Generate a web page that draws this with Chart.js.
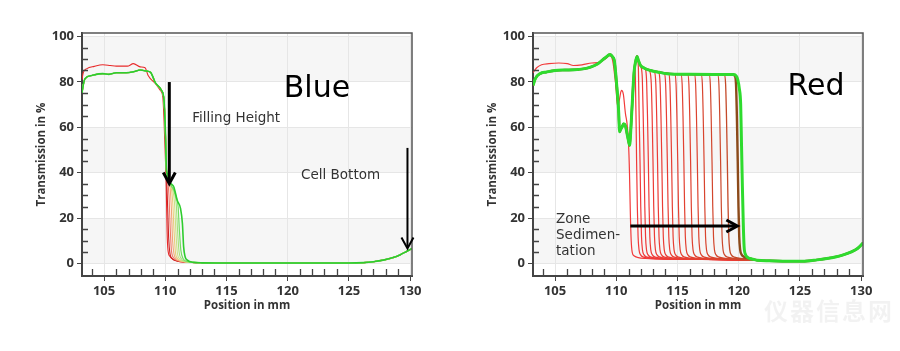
<!DOCTYPE html>
<html><head><meta charset="utf-8">
<script src="https://cdn.jsdelivr.net/npm/chart.js@4.4.1/dist/chart.umd.min.js"></script>
<style>
html,body{margin:0;padding:0;background:#fff;width:900px;height:351px;overflow:hidden;position:relative}
canvas{position:absolute;top:0}
#c1{left:0}
#c2{left:451px}
#wm{position:absolute;left:764px;top:292px;font:bold 24px "Noto Sans CJK SC";color:rgba(0,0,0,0.05);letter-spacing:2px;white-space:nowrap}
</style></head><body>
<canvas id="c1" width="450" height="351"></canvas>
<canvas id="c2" width="450" height="351"></canvas>
<div id="wm">仪器信息网</div>
<script>
// ---------- axis / labels ----------
const xRange = [103.2, 130.15];
const yRange = [-5.5, 101.5];
const xTitle = 'Position in mm';
const yTitle = 'Transmission in %';

// ---------- BLUE panel profiles (position mm, transmission %) ----------
const blueHeadRed = [[103.2,81],[103.3,84],[103.6,85.8],[104.2,86.8],[104.9,87.5],[105.5,87.2],[106.0,86.9],[106.9,86.9],[107.4,88],[107.95,86.6],[108.35,86.2],[108.6,82.8],[109.2,79.2],[109.6,76.2],[109.8,73.3],[109.9,63]];
const blueHeadGreen = [[103.2,75],[103.3,78.5],[103.45,81.4],[104.0,82.8],[104.9,83.6],[105.4,83.3],[106.0,84],[106.8,84],[107.4,84.4],[107.95,85.2],[108.5,84.7],[108.8,84.2],[109.2,79.5],[109.7,76.2],[109.9,71.8],[110.0,60]];
const blueC0 = [[110.0,48],[110.08,34],[110.15,14],[110.22,6],[110.4,3],[110.6,2],[111.0,1],[111.5,0.6],[112.5,0.4]];
const blueC1 = [[110.06,46],[110.12,36],[110.2,24],[110.28,11],[110.38,4.5],[110.55,2.2],[110.9,1.2],[111.6,0.6],[112.5,0.4]];
const blueC2 = [[110.1,42],[110.2,36.5],[110.3,30],[110.4,16],[110.5,6],[110.68,2.5],[111.0,1.3],[111.7,0.6],[112.5,0.4]];
const blueC3 = [[110.1,41],[110.25,37],[110.4,33],[110.5,24],[110.6,10],[110.72,4],[110.9,2],[111.3,1],[112.0,0.5],[112.6,0.4]];
const blueC4 = [[110.1,41],[110.25,37],[110.45,34.5],[110.6,28],[110.72,14],[110.83,5],[111.0,2.2],[111.4,1],[112.1,0.5],[112.7,0.4]];
const blueC5 = [[110.1,41],[110.25,37],[110.45,34.5],[110.6,32.5],[110.75,27],[110.87,14],[110.98,5],[111.15,2.2],[111.5,1],[112.2,0.5],[112.8,0.35]];
const blueC6 = [[110.1,41],[110.25,37],[110.45,34.5],[110.75,31],[110.9,26],[111.0,15],[111.12,5.5],[111.3,2.2],[111.6,1],[112.3,0.5]];
const blueC7 = [[110.1,41],[110.25,37],[110.45,34.5],[110.7,32.5],[110.9,29],[111.05,25],[111.15,15],[111.27,6],[111.45,2.2],[111.75,1],[112.4,0.5]];
const blueC8 = [[110.1,41],[110.17,39.6],[110.3,36.6],[110.5,35],[110.7,33.7],[110.98,27.8],[111.25,24.2],[111.4,17.6],[111.5,7.3],[111.62,3],[111.8,1.5],[112.3,0.5]];
const blueTail = [[113,0.3],[116,0.2],[120,0.2],[125,0.2],[126.2,0.4],[127,0.8],[127.8,1.5],[128.6,2.6],[129.2,3.9],[129.7,5.3],[130.15,6.6]];
const blueColors = ['#e82a2a','#cc2222','#f07a6a','#f0a878','#e8cc78','#cce088','#a4e27a','#74dc62','#2ecc2e'];

// ---------- RED panel profiles ----------
const redHeadFirst = [[103.2,84],[103.5,86.2],[103.9,87.5],[104.5,88],[105.3,88.3],[106.0,88],[106.5,87.2],[107.2,87.5],[108.0,88.3],[108.6,88.6],[109.1,90],[109.45,91.5],[109.7,89.5],[109.95,79],[110.12,69],[110.25,72],[110.42,76.2],[110.58,74.5],[110.75,66],[110.88,61.6],[111.0,53]];
const redHeadGreen = [[103.2,78.4],[103.4,81.5],[103.77,83.6],[104.3,84.3],[105.0,85],[105.8,85.2],[106.6,85.3],[107.3,85.7],[107.9,86.5],[108.5,88],[109.1,90.6],[109.5,92],[109.7,91],[109.84,89.4],[109.95,84],[110.05,77.7],[110.19,67.4],[110.27,58],[110.35,59],[110.47,60.1],[110.6,61.5],[110.74,60.8],[110.88,57.2],[111.0,54],[111.09,52]];
const redSpike = [[111.2,60],[111.3,70],[111.45,84],[111.58,89],[111.7,91.2],[111.8,89.5],[111.97,87.3]];
const redR0 = [[111.08,40],[111.15,22],[111.22,10],[111.3,5],[111.45,3.4],[111.8,2.6],[112.4,2.2],[113.5,2],[116,1.8],[119,1.7],[121,1.5]];
const redR1 = [[111.2,60],[111.3,70],[111.42,82],[111.5,86],[111.56,82],[111.62,62],[111.66,45],[111.72,25],[111.78,12],[111.86,6],[111.99,3.8],[112.24,2.8],[112.74,2.3],[113.6,2],[116,1.8],[119,1.7],[121,1.5]];
const redR2 = [[111.2,60],[111.3,70],[111.45,84],[111.58,89],[111.7,90.5],[111.8,87],[111.87,65],[111.94,45],[112.0,25],[112.06,12],[112.14,6],[112.27,3.8],[112.52,2.8],[113.02,2.3],[113.9,2],[116.5,1.8],[119,1.7],[121,1.5]];
const redR3 = [[112.03,86.5],[112.13,81],[112.2,65],[112.27,45],[112.33,25],[112.39,12],[112.47,6],[112.6,3.8],[112.85,2.8],[113.35,2.3],[114.3,2],[117,1.8],[121,1.5]];
const redR4 = [[112.2,86.2],[112.38,85.6],[112.48,80],[112.55,65],[112.62,45],[112.68,25],[112.74,12],[112.82,6],[112.95,3.8],[113.2,2.8],[113.7,2.3],[114.6,2],[117.5,1.8],[121,1.5]];
const redR5 = [[112.3,86],[112.58,85.3],[112.76,84.3],[112.86,79],[112.93,65],[113.0,45],[113.06,25],[113.12,12],[113.2,6],[113.33,3.8],[113.58,2.8],[114.08,2.3],[115,2],[118,1.8],[121,1.5]];
const redR6 = [[112.3,86],[112.8,85],[113.13,84.3],[113.23,79],[113.3,65],[113.37,45],[113.43,25],[113.49,12],[113.57,6],[113.7,3.8],[113.95,2.8],[114.45,2.3],[115.4,2],[118,1.8],[121,1.5]];
const redR7 = [[112.3,86],[112.8,85],[113.3,84.4],[113.48,84],[113.58,79],[113.65,65],[113.72,45],[113.78,25],[113.84,12],[113.92,6],[114.05,3.8],[114.3,2.8],[114.8,2.3],[115.7,2],[118.5,1.8],[121,1.5]];
const redR8 = [[112.3,86],[112.8,85],[113.5,84.2],[113.93,83.8],[114.03,79],[114.1,65],[114.17,45],[114.23,25],[114.29,12],[114.37,6],[114.5,3.8],[114.75,2.8],[115.25,2.3],[116.2,2],[119,1.8],[121,1.5]];
const redR9 = [[112.3,86],[112.8,85],[113.5,84.2],[114.28,83.7],[114.38,79],[114.45,65],[114.52,45],[114.58,25],[114.64,12],[114.72,6],[114.85,3.8],[115.1,2.8],[115.6,2.3],[116.5,2],[119,1.8],[121,1.5]];
const redR10 = [[112.3,86],[112.8,85],[113.5,84.2],[114.15,83.6],[114.78,83.5],[114.88,79],[114.95,65],[115.02,45],[115.08,25],[115.14,12],[115.22,6],[115.35,3.8],[115.6,2.8],[116.1,2.3],[117,2],[119.5,1.8],[121,1.5]];
const redR11 = [[112.3,86],[112.8,85],[113.5,84.2],[114.15,83.6],[115.28,83.4],[115.38,79],[115.45,65],[115.52,45],[115.58,25],[115.64,12],[115.72,6],[115.85,3.8],[116.1,2.8],[116.6,2.3],[117.5,2],[119.5,1.8],[121,1.5]];
const redR12 = [[112.3,86],[112.8,85],[113.5,84.2],[114.15,83.6],[115.83,83.4],[115.93,79],[116.0,65],[116.07,45],[116.13,25],[116.19,12],[116.27,6],[116.4,3.8],[116.65,2.8],[117.15,2.3],[118.05,2],[120,1.8],[121,1.5]];
const redR13 = [[112.3,86],[112.8,85],[113.5,84.2],[114.15,83.6],[116,83.3],[116.38,83.3],[116.48,79],[116.55,65],[116.62,45],[116.68,25],[116.74,12],[116.82,6],[116.95,3.8],[117.2,2.8],[117.7,2.3],[118.6,2],[121,1.5]];
const redR14 = [[112.3,86],[112.8,85],[113.5,84.2],[114.15,83.6],[116,83.3],[116.93,83.3],[117.03,79],[117.1,65],[117.17,45],[117.23,25],[117.29,12],[117.37,6],[117.5,3.8],[117.75,2.8],[118.25,2.3],[119.15,2],[121,1.5]];
const redR15 = [[112.3,86],[112.8,85],[113.5,84.2],[114.15,83.6],[116,83.3],[117.58,83.3],[117.68,79],[117.75,65],[117.82,45],[117.88,25],[117.94,12],[118.02,6],[118.15,3.8],[118.4,2.8],[118.9,2.3],[119.8,2],[121,1.5]];
const redR16 = [[112.3,86],[112.8,85],[113.5,84.2],[114.15,83.6],[116,83.3],[118.28,83.2],[118.38,79],[118.45,65],[118.52,45],[118.58,25],[118.64,12],[118.72,6],[118.85,3.8],[119.1,2.8],[119.6,2.3],[120.5,2],[121.2,1.6]];
const redR17 = [[112.3,86],[112.8,85],[113.5,84.2],[114.15,83.6],[116,83.3],[118.83,83.2],[118.93,79],[119.0,65],[119.07,45],[119.13,25],[119.19,12],[119.27,6],[119.4,3.8],[119.65,2.8],[120.15,2.3],[121.05,1.9],[121.3,1.6]];
const redBrown = [[112.3,86],[112.8,85],[113.5,84.2],[114.15,83.6],[116,83.3],[118,83.2],[119.5,83.2],[119.68,82.6],[119.78,79],[119.85,65],[119.92,45],[119.98,25],[120.04,12],[120.12,6],[120.25,3.8],[120.5,2.8],[120.9,2.2],[121.3,1.7]];
const redGreen = [[112.3,86],[112.8,85],[113.5,84.2],[114.15,83.6],[116,83.3],[118,83.2],[119.6,83.2],[119.8,82.5],[119.92,81],[120.05,77],[120.16,70],[120.23,52],[120.3,34],[120.37,18],[120.44,7.5],[120.55,4],[120.7,2.8],[120.9,2.2],[121.3,1.7]];
const redTail = [[121.5,1.4],[122.5,1.2],[124,1.0],[125.2,1.0],[126.4,1.6],[127.2,2.2],[127.9,2.9],[128.6,3.9],[129.2,5.1],[129.7,6.6],[130.15,9]];
const redColors = ['#f23b3b','#f03a3a','#f03a3a','#ee3a38','#ee3b38','#ec3c36','#ec3c36','#ea3d35','#e83e34','#e63f33','#e44032','#e24131','#df4230','#dc432f','#d8442e','#d2462d','#cc482c','#c44a2a','#8c4a1a','#2edb2e'];

// ---------- annotations (data coordinates) ----------
const blueNotes = [
  {text:'Blue', x:122.39, y:73.3, size:30, color:'#000', align:'center'},
  {text:'Filling Height', x:112.21, y:62.3, size:13.5, color:'#333', align:'left'},
  {text:'Cell Bottom', x:121.09, y:37.4, size:13.5, color:'#333', align:'left'}
];
const blueArrows = [
  {x1:110.33, y1:79.9, x2:110.33, y2:35.2, w:3},
  {x1:129.78, y1:50.9, x2:129.78, y2:6.6, w:2}
];
const redNotes = [
  {text:'Red', x:126.31, y:74.4, size:30, color:'#000', align:'center'},
  {text:'Zone', x:105.08, y:17.9, size:13.5, color:'#333', align:'left'},
  {text:'Sedimen-', x:105.08, y:11.0, size:13.5, color:'#333', align:'left'},
  {text:'tation', x:105.08, y:3.9, size:13.5, color:'#333', align:'left'}
];
const redArrows = [
  {x1:111.15, y1:16.5, x2:119.89, y2:16.5, w:3}
];
const bands = [[0,20],[40,60],[80,100]];

// ---------- build profile lists ----------
const blueProfiles = [
  blueHeadRed.concat(blueC0, blueTail),
  blueHeadGreen.concat(blueC1, blueTail),
  blueHeadGreen.concat(blueC2, blueTail),
  blueHeadGreen.concat(blueC3, blueTail),
  blueHeadGreen.concat(blueC4, blueTail),
  blueHeadGreen.concat(blueC5, blueTail),
  blueHeadGreen.concat(blueC6, blueTail),
  blueHeadGreen.concat(blueC7, blueTail),
  blueHeadGreen.concat(blueC8, blueTail)
];
const redProfiles = [
  redHeadFirst.concat(redR0, redTail),
  redHeadGreen.concat(redR1, redTail),
  redHeadGreen.concat(redR2, redTail),
  redHeadGreen.concat(redSpike, redR3, redTail),
  redHeadGreen.concat(redSpike, redR4, redTail),
  redHeadGreen.concat(redSpike, redR5, redTail),
  redHeadGreen.concat(redSpike, redR6, redTail),
  redHeadGreen.concat(redSpike, redR7, redTail),
  redHeadGreen.concat(redSpike, redR8, redTail),
  redHeadGreen.concat(redSpike, redR9, redTail),
  redHeadGreen.concat(redSpike, redR10, redTail),
  redHeadGreen.concat(redSpike, redR11, redTail),
  redHeadGreen.concat(redSpike, redR12, redTail),
  redHeadGreen.concat(redSpike, redR13, redTail),
  redHeadGreen.concat(redSpike, redR14, redTail),
  redHeadGreen.concat(redSpike, redR15, redTail),
  redHeadGreen.concat(redSpike, redR16, redTail),
  redHeadGreen.concat(redSpike, redR17, redTail),
  redHeadGreen.concat(redSpike, redBrown, redTail),
  redHeadGreen.concat(redSpike, redGreen, redTail)
];

Chart.defaults.font.family = "'Open Sans', 'DejaVu Sans', sans-serif";

function decor(notes, arrows) {
  return {
    id: 'decor',
    beforeDraw(chart) {
      const {ctx, chartArea: a, scales: {y}} = chart;
      ctx.save();
      ctx.fillStyle = '#f6f6f6';
      for (const [lo, hi] of bands) {
        const t = y.getPixelForValue(hi), b = y.getPixelForValue(lo);
        ctx.fillRect(a.left, t, a.right - a.left, b - t);
      }
      ctx.restore();
    },
    afterDatasetsDraw(chart) {
      const {ctx, chartArea: a, scales: {x, y}} = chart;
      ctx.save();
      ctx.strokeStyle = '#444';
      ctx.lineWidth = 1.3;
      ctx.beginPath();
      for (let v = 5; v < 100; v += 5) {
        if (v % 20 === 0) continue;
        const py = Math.round(y.getPixelForValue(v)) + 0.5;
        ctx.moveTo(a.left, py); ctx.lineTo(a.left + 6, py);
      }
      for (let v = 104; v <= 130; v += 1) {
        if (v % 5 === 0) continue;
        const px = Math.round(x.getPixelForValue(v)) + 0.5;
        ctx.moveTo(px, a.bottom); ctx.lineTo(px, a.bottom - 7);
      }
      ctx.stroke();
      ctx.strokeStyle = '#555';
      ctx.lineWidth = 1.5;
      ctx.beginPath();
      ctx.moveTo(a.left, a.top); ctx.lineTo(a.right, a.top); ctx.lineTo(a.right, a.bottom);
      ctx.stroke();
      ctx.restore();
    },
    afterDraw(chart) {
      const {ctx, scales: {x, y}} = chart;
      ctx.save();
      for (const n of notes) {
        ctx.font = n.size + "px 'DejaVu Sans'";
        ctx.fillStyle = n.color;
        ctx.textAlign = n.align;
        ctx.textBaseline = 'alphabetic';
        ctx.fillText(n.text, x.getPixelForValue(n.x), y.getPixelForValue(n.y));
      }
      ctx.strokeStyle = '#000';
      ctx.lineCap = 'butt';
      ctx.lineJoin = 'miter';
      for (const ar of arrows) {
        const x1 = x.getPixelForValue(ar.x1), y1 = y.getPixelForValue(ar.y1);
        const x2 = x.getPixelForValue(ar.x2), y2 = y.getPixelForValue(ar.y2);
        const ang = Math.atan2(y2 - y1, x2 - x1);
        ctx.lineWidth = ar.w;
        ctx.beginPath();
        ctx.moveTo(x1, y1);
        ctx.lineTo(x2 - Math.cos(ang) * 1.5, y2 - Math.sin(ang) * 1.5);
        ctx.stroke();
        const L = 11, W = 6;
        const bx = x2 - Math.cos(ang) * L, by = y2 - Math.sin(ang) * L;
        const nx = -Math.sin(ang) * W, ny = Math.cos(ang) * W;
        ctx.beginPath();
        ctx.moveTo(bx + nx, by + ny);
        ctx.lineTo(x2, y2);
        ctx.lineTo(bx - nx, by - ny);
        ctx.stroke();
      }
      ctx.restore();
    }
  };
}

function makeChart(id, profiles, colors, widths, notes, arrows) {
  const n = profiles.length;
  const datasets = profiles.map((p, i) => ({
    data: p,
    borderColor: colors[i],
    borderWidth: widths[i],
    pointRadius: 0,
    fill: false,
    cubicInterpolationMode: 'monotone',
    order: n - 1 - i
  }));
  return new Chart(document.getElementById(id), {
    type: 'line',
    data: {datasets},
    options: {
      responsive: false,
      animation: false,
      devicePixelRatio: 1,
      events: [],
      layout: {padding: {left: 28, top: 33, right: 38, bottom: 35}},
      plugins: {legend: {display: false}, tooltip: {enabled: false}},
      scales: {
        x: {
          type: 'linear', min: xRange[0], max: xRange[1],
          afterFit(s) { s.height = 40; },
          ticks: {stepSize: 5, includeBounds: false, padding: 2, color: '#333', font: {size: 13, weight: 'bold'}, maxRotation: 0},
          grid: {color: '#e6e6e6', tickColor: '#444', tickLength: 5, lineWidth: 1},
          border: {color: '#444', width: 2},
          title: {display: true, text: xTitle, color: '#333', font: {size: 11.5, weight: 'bold'}, padding: {top: 1, bottom: 3}}
        },
        y: {
          type: 'linear', min: yRange[0], max: yRange[1],
          afterFit(s) { s.width = 54; },
          ticks: {stepSize: 20, includeBounds: false, padding: 3, color: '#333', font: {size: 13, weight: 'bold'}},
          grid: {color: '#e6e6e6', tickColor: '#444', tickLength: 5, lineWidth: 1},
          border: {color: '#444', width: 2},
          title: {display: true, text: yTitle, color: '#333', font: {size: 11.5, weight: 'bold'}, padding: {top: 7, bottom: 2}}
        }
      }
    },
    plugins: [decor(notes, arrows)]
  });
}

const blueWidths = [1.1,1.1,1.1,1.1,1.1,1.1,1.1,1.2,1.6];
const redWidths = [1.2,1.2,1.2,1.2,1.2,1.2,1.2,1.2,1.2,1.2,1.2,1.2,1.2,1.2,1.2,1.2,1.2,1.3,2.4,3];
makeChart('c1', blueProfiles, blueColors, blueWidths, blueNotes, blueArrows);
makeChart('c2', redProfiles, redColors, redWidths, redNotes, redArrows);
</script>
</body></html>
